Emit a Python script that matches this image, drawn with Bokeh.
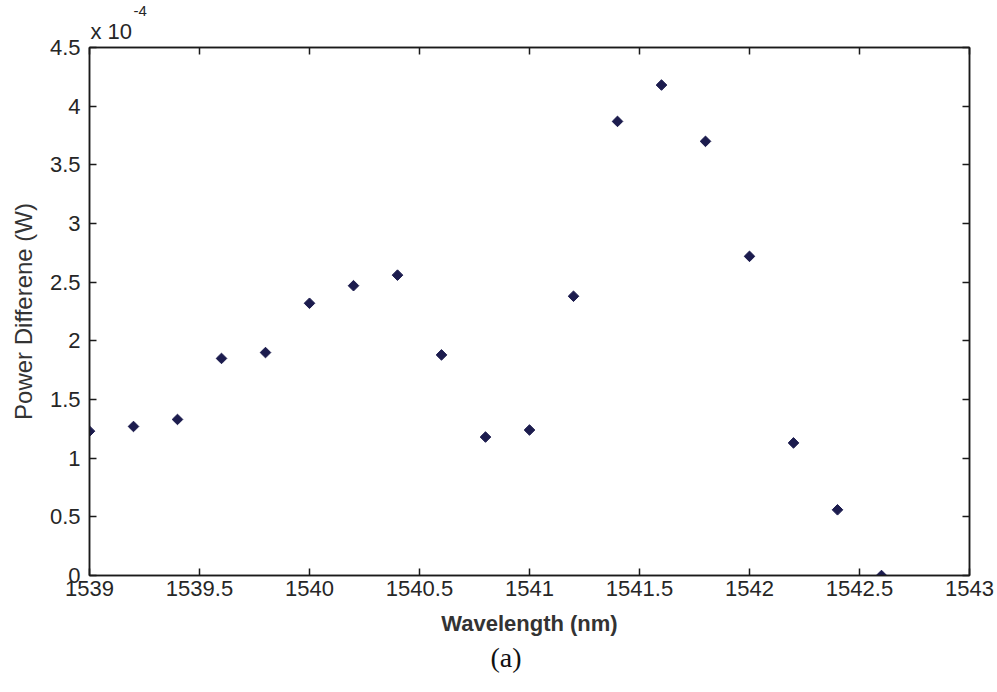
import math
from bokeh.plotting import figure
from bokeh.models import Range1d, LinearAxis, Title, FixedTicker, CustomJSTickFormatter
from bokeh.embed import file_html
from bokeh.resources import INLINE

# Wavelength (nm)
wavelength = [1539.0, 1539.2, 1539.4, 1539.6, 1539.8, 1540.0, 1540.2, 1540.4,
              1540.6, 1540.8, 1541.0, 1541.2, 1541.4, 1541.6, 1541.8, 1542.0,
              1542.2, 1542.4, 1542.6]
# Power difference in units of 1e-4 W
power_diff = [1.23, 1.27, 1.33, 1.85, 1.90, 2.32, 2.47, 2.56,
              1.88, 1.18, 1.24, 2.38, 3.87, 4.18, 3.70, 2.72,
              1.13, 0.56, 0.00]
x_ticks = [1539, 1539.5, 1540, 1540.5, 1541, 1541.5, 1542, 1542.5, 1543]
y_ticks = [0, 0.5, 1, 1.5, 2, 2.5, 3, 3.5, 4, 4.5]

FONT = "Liberation Sans"
TXT = "#262626"

p = figure(width=997, height=692, output_backend="svg", toolbar_location=None,
           x_range=Range1d(1539, 1543), y_range=Range1d(0, 4.5),
           min_border_left=89, min_border_right=28, min_border_top=47,
           min_border_bottom=117, x_axis_type=None, y_axis_type=None)
p.grid.visible = False
p.outline_line_color = "#1a1a1a"
p.outline_line_width = 1.5
p.background_fill_color = "white"
p.border_fill_color = "white"

def make_axis(ticks, labels=True):
    ax = LinearAxis(ticker=FixedTicker(ticks=ticks))
    ax.major_tick_in = 7
    ax.major_tick_out = 0
    ax.minor_tick_in = 0
    ax.minor_tick_out = 0
    ax.axis_line_color = "#1a1a1a"
    ax.axis_line_width = 1.5
    ax.major_tick_line_color = "#1a1a1a"
    ax.major_tick_line_width = 1.5
    ax.major_label_text_font = FONT
    ax.major_label_text_font_size = "22px"
    ax.major_label_text_color = TXT
    if not labels:
        ax.formatter = CustomJSTickFormatter(code="return ''")
        ax.major_label_standoff = 0
    return ax

xb = make_axis(x_ticks)
xb.major_label_standoff = 5
xb.axis_label = "Wavelength (nm)"
xb.axis_label_text_font = FONT
xb.axis_label_text_font_style = "bold"
xb.axis_label_text_font_size = "22px"
xb.axis_label_text_color = "#333333"
xb.axis_label_standoff = 12
p.add_layout(xb, "below")

yl = make_axis(y_ticks)
yl.major_label_standoff = 9
yl.axis_label = "Power Differene (W)"
yl.axis_label_text_font = FONT
yl.axis_label_text_font_style = "normal"
yl.axis_label_text_font_size = "24px"
yl.axis_label_text_color = "#333333"
yl.axis_label_standoff = 10
p.add_layout(yl, "left")

p.add_layout(make_axis(x_ticks, labels=False), "above")
p.add_layout(make_axis(y_ticks, labels=False), "right")

p.scatter(wavelength, power_diff, marker="square", angle=math.pi / 4, size=7.5,
          fill_color="#1c1c4e", line_color="#1c1c4e")

# Exponent note above the frame, caption below
p.add_layout(Title(text="x 10", align="left", offset=1, standoff=8,
                   text_font=FONT, text_font_size="22px", text_font_style="normal",
                   text_color=TXT), "above")
p.add_layout(Title(text="-4", align="left", offset=44, standoff=-7,
                   text_line_height=0.8,
                   text_font=FONT, text_font_size="15px", text_font_style="normal",
                   text_color=TXT), "above")
p.add_layout(Title(text="(a)", align="left", offset=401, standoff=2,
                   text_font="Liberation Serif", text_font_size="28px",
                   text_font_style="normal", text_color="#111111"), "below")

open("out.html", "w").write(file_html(p, INLINE))
